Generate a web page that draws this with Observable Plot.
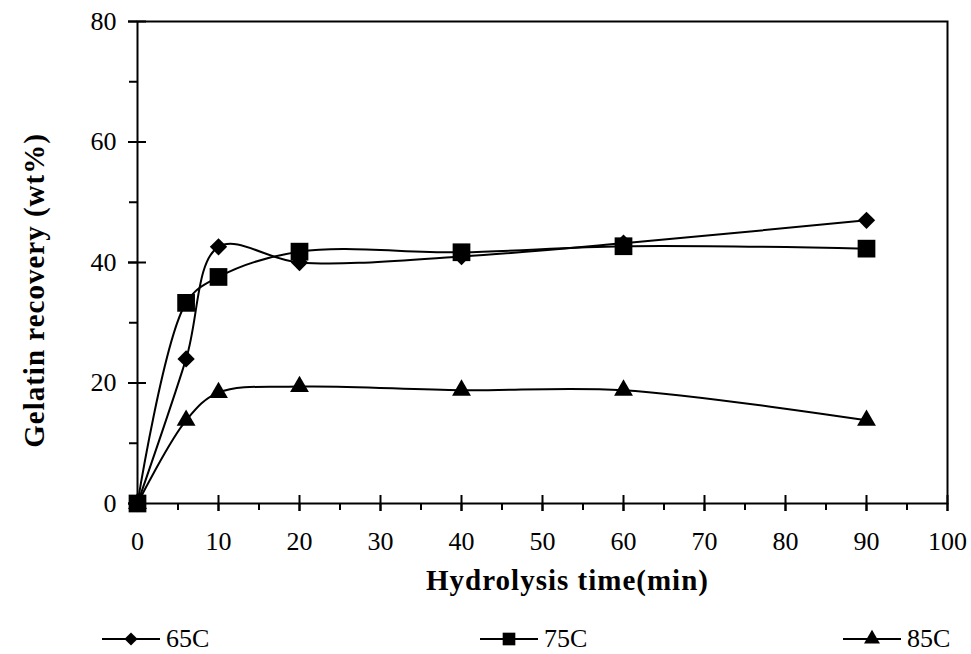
<!DOCTYPE html>
<html>
<head>
<meta charset="utf-8">
<script src="https://cdn.jsdelivr.net/npm/d3@7"></script>
<script src="https://cdn.jsdelivr.net/npm/@observablehq/plot@0.6"></script>
<style>
  html, body { margin: 0; padding: 0; background: #fff; }
  #wrap { position: relative; width: 971px; height: 654px; font-family: "Liberation Serif", "Times New Roman", serif; }
  #chart svg text { font-family: "Liberation Serif", "Times New Roman", serif; }
  #legend { position: absolute; left: 0; top: 605px; width: 971px; height: 49px; }
  .item { position: absolute; top: 21px; display: flex; align-items: center; font-size: 26px; color: #000; line-height: 1; }
  .item svg { display: block; margin-right: 6px; }
</style>
</head>
<body>
<div id="wrap">
  <div id="chart"></div>
  <div id="legend"></div>
</div>
<script>
// Hydrolysis time (min)
const time = [0, 6, 10, 20, 40, 60, 90];
// Gelatin recovery (wt%) at each extraction temperature
const rec65 = [0, 24.0, 42.6, 40.0, 41.0, 43.2, 47.0];
const rec75 = [0, 33.3, 37.6, 41.8, 41.7, 42.7, 42.3];
const rec85 = [0, 13.8, 18.4, 19.4, 18.8, 18.8, 13.8];

const seriesNames = ["65C", "75C", "85C"];
const seriesSymbols = ["diamond2", "square", "triangle"];
const seriesRadius = [7.8, 10, 7];

const xMajor = [0, 10, 20, 30, 40, 50, 60, 70, 80, 90, 100];
const xMinor = [5, 15, 25, 35, 45, 55, 65, 75, 85, 95];
const yMajor = [0, 20, 40, 60, 80];
const yMinor = [10, 30, 50, 70];

const xTitle = "Hydrolysis time(min)";
const yTitle = "Gelatin recovery (wt%)";

const values = [rec65, rec75, rec85];
const tables = values.map((vals, i) => time.map((t, j) => ({t, v: vals[j], s: seriesNames[i]})));

const font = "Liberation Serif, Times New Roman, serif";
const blank = () => "";

const marks = [
  Plot.frame({stroke: "#000", strokeWidth: 2}),
  // y axis: labelled major ticks, crossing ticks and outward minor ticks
  Plot.axisY({ticks: yMajor, label: null, tickSize: 9, tickPadding: 12, fontSize: 26, strokeWidth: 2, tickFormat: d => d}),
  Plot.axisY({ticks: yMajor, label: null, tickSize: 18, dx: 9, strokeWidth: 2, tickFormat: blank}),
  Plot.axisY({ticks: yMinor, label: null, tickSize: 8, strokeWidth: 2, tickFormat: blank}),
  // x axis
  Plot.axisX({ticks: xMajor, label: null, tickSize: 8, tickPadding: 20, fontSize: 26, strokeWidth: 2, tickFormat: d => d}),
  Plot.axisX({ticks: xMajor, label: null, tickSize: 16, dy: -8, strokeWidth: 2, tickFormat: blank}),
  Plot.axisX({ticks: xMinor, label: null, tickSize: 7, strokeWidth: 2, tickFormat: blank}),
  // axis titles
  Plot.text([yTitle], {frameAnchor: "left", textAnchor: "middle", lineAnchor: "middle", rotate: -90, dx: -103, dy: 28, fontSize: 29, fontWeight: "bold"}),
  Plot.text([xTitle], {frameAnchor: "bottom", textAnchor: "middle", lineAnchor: "middle", dx: 25, dy: 77, fontSize: 29, fontWeight: "bold"})
];

tables.forEach((data) => {
  marks.push(Plot.line(data, {x: "t", y: "v", stroke: "#000", strokeWidth: 2, curve: "catmull-rom"}));
});
tables.forEach((data, i) => {
  marks.push(Plot.dot(data, {x: "t", y: "v", symbol: () => seriesSymbols[i], r: seriesRadius[i], fill: "#000", stroke: "none"}));
});

const chart = Plot.plot({
  width: 971,
  height: 605,
  marginLeft: 137,
  marginRight: 24,
  marginTop: 21,
  marginBottom: 102,
  style: {fontFamily: font, color: "#000", background: "#fff"},
  x: {domain: [0, 100], axis: null},
  y: {domain: [0, 80], axis: null},
  symbol: {type: "identity"},
  marks
});
// slightly open letter spacing on the two axis titles
d3.select(chart).selectAll("text")
  .filter(function () { return this.textContent === xTitle || this.textContent === yTitle; })
  .attr("letter-spacing", "1px");
document.getElementById("chart").appendChild(chart);

// legend below the plot
const legendLeft = [102, 480, 843];
const legend = d3.select("#legend");
seriesNames.forEach((name, i) => {
  const item = legend.append("div").attr("class", "item").style("left", legendLeft[i] + "px");
  const svg = item.append("svg").attr("width", 58).attr("height", 20);
  svg.append("line").attr("x1", 0).attr("x2", 58).attr("y1", 10).attr("y2", 10).attr("stroke", "#000").attr("stroke-width", 2);
  const sym = {diamond2: d3.symbolDiamond2, square: d3.symbolSquare, triangle: d3.symbolTriangle}[seriesSymbols[i]];
  const size = [110, 160, 110][i];
  svg.append("path").attr("d", d3.symbol(sym, size)()).attr("transform", "translate(29,10)").attr("fill", "#000");
  item.append("span").text(name);
});
</script>
</body>
</html>
